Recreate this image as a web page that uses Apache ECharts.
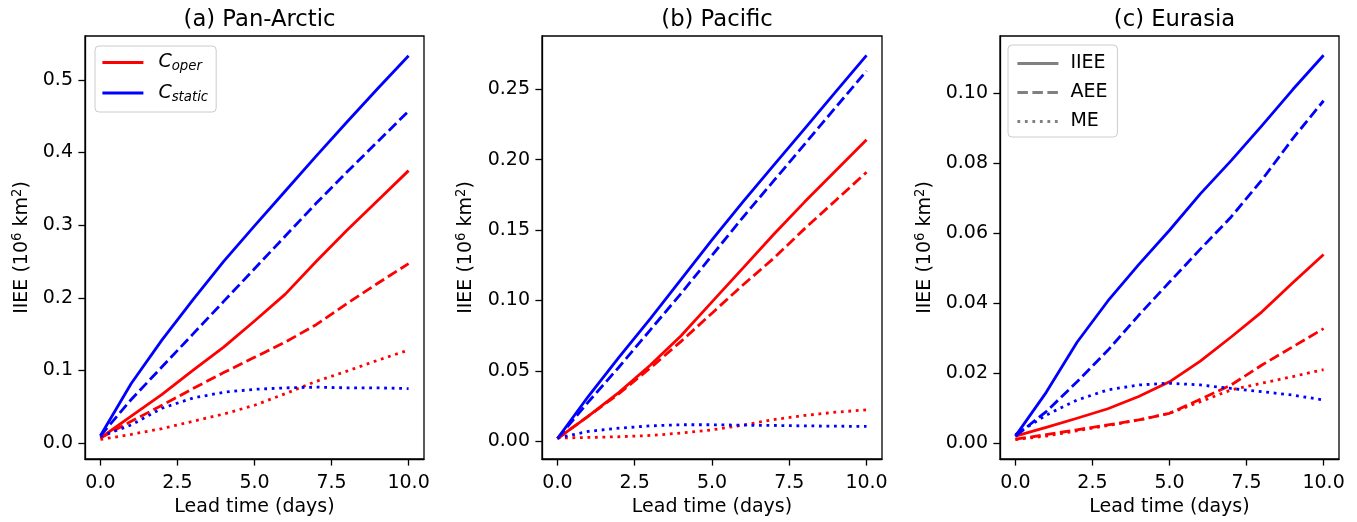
<!DOCTYPE html>
<html><head><meta charset="utf-8">
<script src="https://cdn.jsdelivr.net/npm/echarts@6/dist/echarts.min.js"></script>
<style>html,body{margin:0;padding:0;background:#fff}#c{width:1357px;height:522px}</style>
</head><body><div id="c"></div>
<script>
// ---- data ----
const days = [0, 1, 2, 3, 4, 5, 6, 7, 8, 9, 10];
const panelTitles = ['(a) Pan-Arctic', '(b) Pacific', '(c) Eurasia'];
const xTicks = [0, 2.5, 5, 7.5, 10];
const yTicksA = [0, 0.1, 0.2, 0.3, 0.4, 0.5];
const yTicksB = [0, 0.05, 0.10, 0.15, 0.20, 0.25];
const yTicksC = [0, 0.02, 0.04, 0.06, 0.08, 0.10];
const metricNames = ['IIEE', 'AEE', 'ME'];
const modelNames = ['C_oper', 'C_static'];

// (a) Pan-Arctic
const panOperIIEE   = [0.007, 0.037, 0.067, 0.100, 0.132, 0.168, 0.205, 0.250, 0.293, 0.334, 0.375];
const panOperAEE    = [0.007, 0.030, 0.052, 0.075, 0.097, 0.118, 0.139, 0.163, 0.192, 0.220, 0.247];
const panOperME     = [0.005, 0.012, 0.020, 0.030, 0.040, 0.052, 0.068, 0.085, 0.099, 0.114, 0.128];
const panStaticIIEE = [0.010, 0.082, 0.142, 0.197, 0.250, 0.299, 0.347, 0.395, 0.442, 0.488, 0.533];
const panStaticAEE  = [0.010, 0.060, 0.105, 0.150, 0.195, 0.240, 0.285, 0.330, 0.373, 0.415, 0.457];
const panStaticME   = [0.009, 0.025, 0.048, 0.062, 0.070, 0.074, 0.076, 0.077, 0.076, 0.076, 0.075];

// (b) Pacific
const pacOperIIEE   = [0.002, 0.018, 0.035, 0.054, 0.075, 0.099, 0.123, 0.147, 0.170, 0.192, 0.214];
const pacOperAEE    = [0.002, 0.018, 0.034, 0.052, 0.071, 0.091, 0.111, 0.130, 0.151, 0.171, 0.191];
const pacOperME     = [0.0024, 0.0028, 0.0033, 0.0042, 0.0059, 0.0082, 0.0115, 0.0155, 0.0184, 0.0207, 0.0224];
const pacStaticIIEE = [0.002, 0.032, 0.060, 0.087, 0.115, 0.143, 0.170, 0.196, 0.222, 0.248, 0.274];
const pacStaticAEE  = [0.002, 0.028, 0.053, 0.079, 0.105, 0.132, 0.159, 0.185, 0.211, 0.237, 0.263];
const pacStaticME   = [0.0024, 0.0071, 0.0094, 0.0110, 0.0118, 0.0118, 0.0115, 0.0113, 0.0110, 0.0108, 0.0106];

// (c) Eurasia
const eurOperIIEE   = [0.0020, 0.0045, 0.0071, 0.0098, 0.0133, 0.0175, 0.0234, 0.0303, 0.0375, 0.0458, 0.0539];
const eurOperAEE    = [0.0011, 0.0024, 0.0038, 0.0052, 0.0066, 0.0085, 0.0125, 0.0166, 0.0223, 0.0275, 0.0327];
const eurOperME     = [0.0010, 0.0020, 0.0035, 0.0050, 0.0066, 0.0085, 0.0118, 0.0152, 0.0171, 0.0190, 0.0210];
const eurStaticIIEE = [0.0020, 0.0145, 0.0288, 0.0406, 0.0510, 0.0608, 0.0712, 0.0807, 0.0907, 0.1010, 0.1108];
const eurStaticAEE  = [0.0020, 0.0090, 0.0175, 0.0265, 0.0365, 0.0460, 0.0554, 0.0646, 0.0752, 0.0870, 0.0978];
const eurStaticME   = [0.0024, 0.0080, 0.0123, 0.0152, 0.0166, 0.0171, 0.0166, 0.0156, 0.0147, 0.0137, 0.0123];

// ---- styling / layout ----
const FONT = 'DejaVu Sans';
const RED = '#ff0000', BLUE = '#0000ff', GRAY = '#808080';
const LW = 2.8;
const dashTypes = { IIEE: 'solid', AEE: [10.5, 4.5], ME: [2.8, 4.7] };
const grids = [
  { left: 85, top: 36, width: 339, height: 425 },
  { left: 542, top: 36, width: 340, height: 425 },
  { left: 1000, top: 36, width: 339, height: 425 }
];
const yRanges = [
  { min: -0.0219, max: 0.5603, ticks: yTicksA, dec: 1, gap: 52 },
  { min: -0.0125, max: 0.2877, ticks: yTicksB, dec: 2, gap: 65 },
  { min: -0.00455, max: 0.1163, ticks: yTicksC, dec: 2, gap: 64 }
];
const panels = [
  { oper: [panOperIIEE, panOperAEE, panOperME], stat: [panStaticIIEE, panStaticAEE, panStaticME] },
  { oper: [pacOperIIEE, pacOperAEE, pacOperME], stat: [pacStaticIIEE, pacStaticAEE, pacStaticME] },
  { oper: [eurOperIIEE, eurOperAEE, eurOperME], stat: [eurStaticIIEE, eurStaticAEE, eurStaticME] }
];

const txt = { fontFamily: FONT, fontSize: 19, color: '#000' };
const axisLineStyle = { color: '#000', width: 1.3 };
const yNameStyle = Object.assign({}, txt, { rich: {
  n: { fontFamily: FONT, fontSize: 19, color: '#000' },
  sup: { fontFamily: FONT, fontSize: 13.3, color: '#000', padding: [0, 0, 9, 0] }
} });

const xAxes = grids.map((g, i) => ({
  type: 'value', gridIndex: i, min: -0.5, max: 10.5,
  splitLine: { show: false },
  axisLine: { show: true, onZero: false, lineStyle: axisLineStyle },
  axisTick: { show: true, customValues: xTicks, length: 6.6, lineStyle: axisLineStyle },
  axisLabel: Object.assign({ customValues: xTicks, formatter: v => Number(v).toFixed(1), margin: 15 }, txt),
  name: 'Lead time (days)', nameLocation: 'middle', nameGap: 39,
  nameTextStyle: txt
}));
const yAxes = grids.map((g, i) => ({
  type: 'value', gridIndex: i, min: yRanges[i].min, max: yRanges[i].max,
  splitLine: { show: false },
  axisLine: { show: true, onZero: false, lineStyle: axisLineStyle },
  axisTick: { show: true, customValues: yRanges[i].ticks, length: 6.6, lineStyle: axisLineStyle },
  axisLabel: Object.assign({ customValues: yRanges[i].ticks, formatter: v => Number(v).toFixed(yRanges[i].dec), margin: 12 }, txt),
  name: '{n|IIEE (10}{sup|6}{n| km}{sup|2}{n|)}', nameLocation: 'middle', nameGap: yRanges[i].gap, nameRotate: 90,
  nameTextStyle: yNameStyle
}));

const series = [];
panels.forEach((p, gi) => {
  metricNames.forEach((m, mi) => {
    [['oper', RED], ['stat', BLUE]].forEach(([k, col]) => {
      series.push({
        type: 'line', name: panelTitles[gi] + ' ' + k + ' ' + m,
        xAxisIndex: gi, yAxisIndex: gi,
        data: days.map((d, j) => [d, p[k][mi][j]]),
        showSymbol: false, symbol: 'none', silent: true,
        lineStyle: { color: col, width: LW, type: dashTypes[m], cap: 'butt', join: 'round' },
        itemStyle: { color: col }, z: 3
      });
    });
  });
});
// legend proxy series (no data)
modelNames.forEach((n, i) => series.push({
  type: 'line', name: n, xAxisIndex: 0, yAxisIndex: 0, data: [], symbol: 'none',
  lineStyle: { color: i === 0 ? RED : BLUE, width: LW, type: 'solid' }, itemStyle: { color: i === 0 ? RED : BLUE }
}));
metricNames.forEach(n => series.push({
  type: 'line', name: n, xAxisIndex: 2, yAxisIndex: 2, data: [], symbol: 'none',
  lineStyle: { color: GRAY, width: LW, type: dashTypes[n], cap: 'butt' }, itemStyle: { color: GRAY }
}));

const legendBox = { orient: 'vertical', borderColor: '#cccccc', borderWidth: 1, borderRadius: 4,
  backgroundColor: 'rgba(255,255,255,0.8)', itemWidth: 41, itemHeight: 12, selectedMode: false, align: 'left',
  itemStyle: { opacity: 0, borderWidth: 0 }, lineStyle: { width: LW } };

const option = {
  animation: false,
  backgroundColor: '#fff',
  title: panelTitles.map((t, i) => ({
    text: t, left: grids[i].left + grids[i].width / 2, top: 4, textAlign: 'center',
    textStyle: { fontFamily: FONT, fontSize: 22.7, fontWeight: 'normal', color: '#000' }
  })),
  grid: grids.map(g => Object.assign({ show: true, borderColor: '#000', borderWidth: 1.3, containLabel: false }, g)),
  xAxis: xAxes,
  yAxis: yAxes,
  legend: [
    Object.assign({}, legendBox, {
      data: modelNames, left: 95, top: 46, itemGap: 10, padding: [7, 8, 8, 6],
      formatter: n => n === 'C_oper' ? '{c|C}{s|oper}' : '{c|C}{s|static}',
      textStyle: { padding: [0, 0, 0, 10], rich: {
        c: { fontFamily: FONT, fontSize: 19, fontStyle: 'italic', color: '#000' },
        s: { fontFamily: FONT, fontSize: 13.3, fontStyle: 'italic', color: '#000', padding: [9, 0, 0, 0] }
      } }
    }),
    Object.assign({}, legendBox, {
      data: metricNames, left: 1008, top: 45, itemGap: 10, padding: [9, 10, 6, 8],
      textStyle: { fontFamily: FONT, fontSize: 19, color: '#000', padding: [0, 0, 0, 7] }
    })
  ],
  series: series
};
const chart = echarts.init(document.getElementById('c'), null, { renderer: 'canvas' });
chart.setOption(option);
</script></body></html>
